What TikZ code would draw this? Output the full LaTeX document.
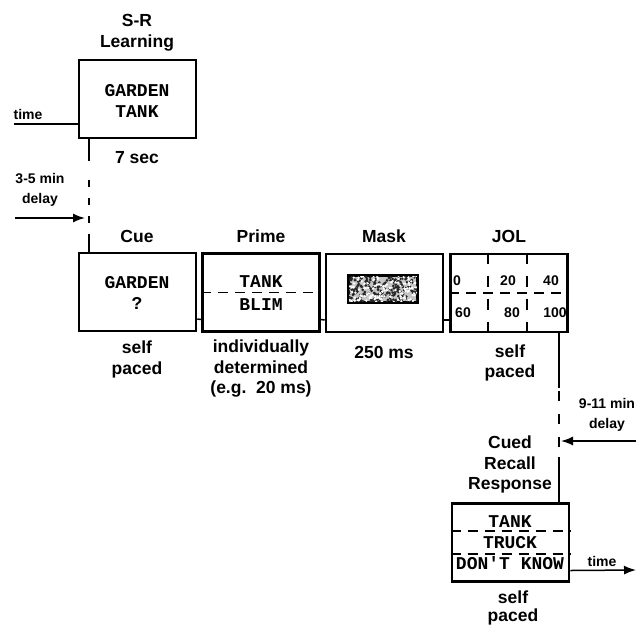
\documentclass[tikz,border=0pt]{standalone}
\usepackage{fontspec}
\setmainfont{Liberation Sans}
\setmonofont{Liberation Mono}
\usetikzlibrary{arrows.meta}
\begin{document}
\begin{tikzpicture}[x=1pt,y=-1pt,
  stage/.style={draw, line width=2.6pt, minimum width=117pt, minimum height=78pt, inner sep=0pt},
  lbl/.style={font=\fontsize{17.5}{20.5}\selectfont\bfseries, align=center, inner sep=0pt},
  sml/.style={font=\fontsize{14}{20}\selectfont\bfseries, align=center, inner sep=0pt},
  word/.style={font=\fontsize{18}{20}\selectfont\ttfamily\bfseries, inner sep=0pt},
  num/.style={font=\fontsize{14}{18}\selectfont\bfseries, inner sep=0pt},
  conn/.style={line width=1.5pt},
  dconn/.style={line width=1.5pt, dash pattern=on 7pt off 11pt},
  gridline/.style={line width=1.7pt, dash pattern=on 10pt off 7pt},
  arr/.style={line width=1.5pt, -{Latex[length=12pt,width=9pt]}}
]
\useasboundingbox (0,0) rectangle (636,627);

% stage boxes
\node[stage] (sr) at (137.5,99) {};
\node[stage] (cue) at (137.5,292) {};
\node[stage] (prime) at (261,292.5) {};
\node[stage] (mask) at (384.5,293) {};
\node[stage] (jol) at (509,293) {};
\node[stage] (recall) at (510.5,542.5) {};

% headings
\node[lbl] (srlab) at (137,32.5) {S-R\\Learning};
\node[lbl] (cuelab) at (137,236) {Cue};
\node[lbl] (primelab) at (261,236) {Prime};
\node[lbl] (masklab) at (384,236) {Mask};
\node[lbl] (jollab) at (509,236) {JOL};
\node[lbl] (reclab) at (510,464.5) {Cued\\Recall\\Response};

% durations
\node[lbl] (srdur) at (137,158) {7 sec};
\node[lbl] (cuedur) at (137,359.5) {self\\paced};
\node[lbl] (primedur) at (261,369) {individually\\determined\\(e.g.\ \ 20 ms)};
\node[lbl] (maskdur) at (384,352) {250 ms};
\node[lbl] (joldur) at (510,363) {self\\paced};
\node[lbl, font=\fontsize{17.5}{18.5}\selectfont\bfseries] (recdur) at (513,608) {self\\paced};

% small labels
\node[sml] (time1) at (28,114) {time};
\node[sml] (delay1) at (40,190) {3-5 min\\delay};
\node[sml] (delay2) at (607,415) {9-11 min\\delay};
\node[sml] (time2) at (602,561) {time};

% box contents
\node[word] (w1) at (137,91) {GARDEN};
\node[word] (w2) at (137,112) {TANK};
\node[word] (w3) at (137,283) {GARDEN};
\node[word] (w4) at (137,303) {?};
\node[word] (w5) at (261,282) {TANK};
\node[word] (w6) at (261,305) {BLIM};
\node[word] (w7) at (510,522) {TANK};
\node[word] (w8) at (510,543) {TRUCK};
\node[word] (w9) at (510,563) {DON'T KNOW};

% JOL scale
\node[num] (n0) at (457,281) {0};
\node[num] (n20) at (508,281) {20};
\node[num] (n40) at (551,281) {40};
\node[num] (n60) at (463,313) {60};
\node[num] (n80) at (512,313) {80};
\node[num] (n100) at (555,313) {100};
\draw[gridline] (jol.west) -- (jol.east);
\draw[gridline, dash pattern=on 11pt off 12pt] ([xshift=-21pt]jol.north) -- ([xshift=-21pt]jol.south);
\draw[gridline, dash pattern=on 11pt off 12pt] ([xshift=18pt]jol.north) -- ([xshift=18pt]jol.south);

% prime and recall dividers
\draw[gridline] (prime.west) -- (prime.east);
\draw[gridline] ([yshift=11.5pt]recall.west) -- ([yshift=11.5pt]recall.east);
\draw[gridline] ([yshift=-11.5pt]recall.west) -- ([yshift=-11.5pt]recall.east);

% mask noise
\node[draw, line width=2pt, minimum width=68pt, minimum height=26pt, inner sep=0pt, fill=gray!45] (noise) at (383,289) {};
\begin{scope}
  \clip (noise.south west) rectangle (noise.north east);
  \pgfmathsetseed{5}
  \foreach \i in {1,...,220}{
    \pgfmathsetmacro\rx{348+70*rnd}
    \pgfmathsetmacro\ry{274+30*rnd}
    \fill[black!85] (\rx,\ry) circle (1.5pt);
  }
  \foreach \i in {1,...,140}{
    \pgfmathsetmacro\rx{348+70*rnd}
    \pgfmathsetmacro\ry{274+30*rnd}
    \fill[white] (\rx,\ry) circle (1.3pt);
  }
\end{scope}
\draw[line width=2pt] (noise.south west) rectangle (noise.north east);

% connectors between stage boxes
\draw[conn] ([yshift=-27pt]cue.east) -- ([yshift=-27pt]prime.west);
\draw[conn] ([yshift=-27pt]prime.east) -- ([yshift=-27pt]mask.west);
\draw[conn] ([yshift=-27pt]mask.east) -- ([yshift=-27pt]jol.west);

% time line into S-R
\coordinate (t0) at (14,124);
\draw[conn] (t0) -- (t0 -| sr.west);

% S-R to cue delay line
\coordinate (a1) at (89,161);
\coordinate (a2) at (89,180);
\coordinate (a3) at (89,240);
\draw[conn] (sr.south -| a1) -- (a1);
\draw[dconn] (a2) -- (a3);
\draw[conn] (a3) -- (cue.north -| a3);

\coordinate (l0) at (15,218);
\coordinate (l1) at (85,218);
\draw[arr] (l0) -- (l1);

% JOL to recall delay line
\coordinate (b1) at (559,388);
\coordinate (b2) at (559,391);
\coordinate (b3) at (559,457);
\draw[conn] (jol.south -| b1) -- (b1);
\draw[dconn, dash pattern=on 10pt off 13pt] (b2) -- (b3);
\draw[conn] (b3) -- (recall.north -| b3);

\coordinate (r0) at (636,441);
\coordinate (r1) at (561,441);
\draw[arr] (r0) -- (r1);

% time out of recall
\coordinate (t1) at (636,570);
\draw[arr] ([yshift=-28pt]recall.east) -- (t1);
\end{tikzpicture}
\end{document}
